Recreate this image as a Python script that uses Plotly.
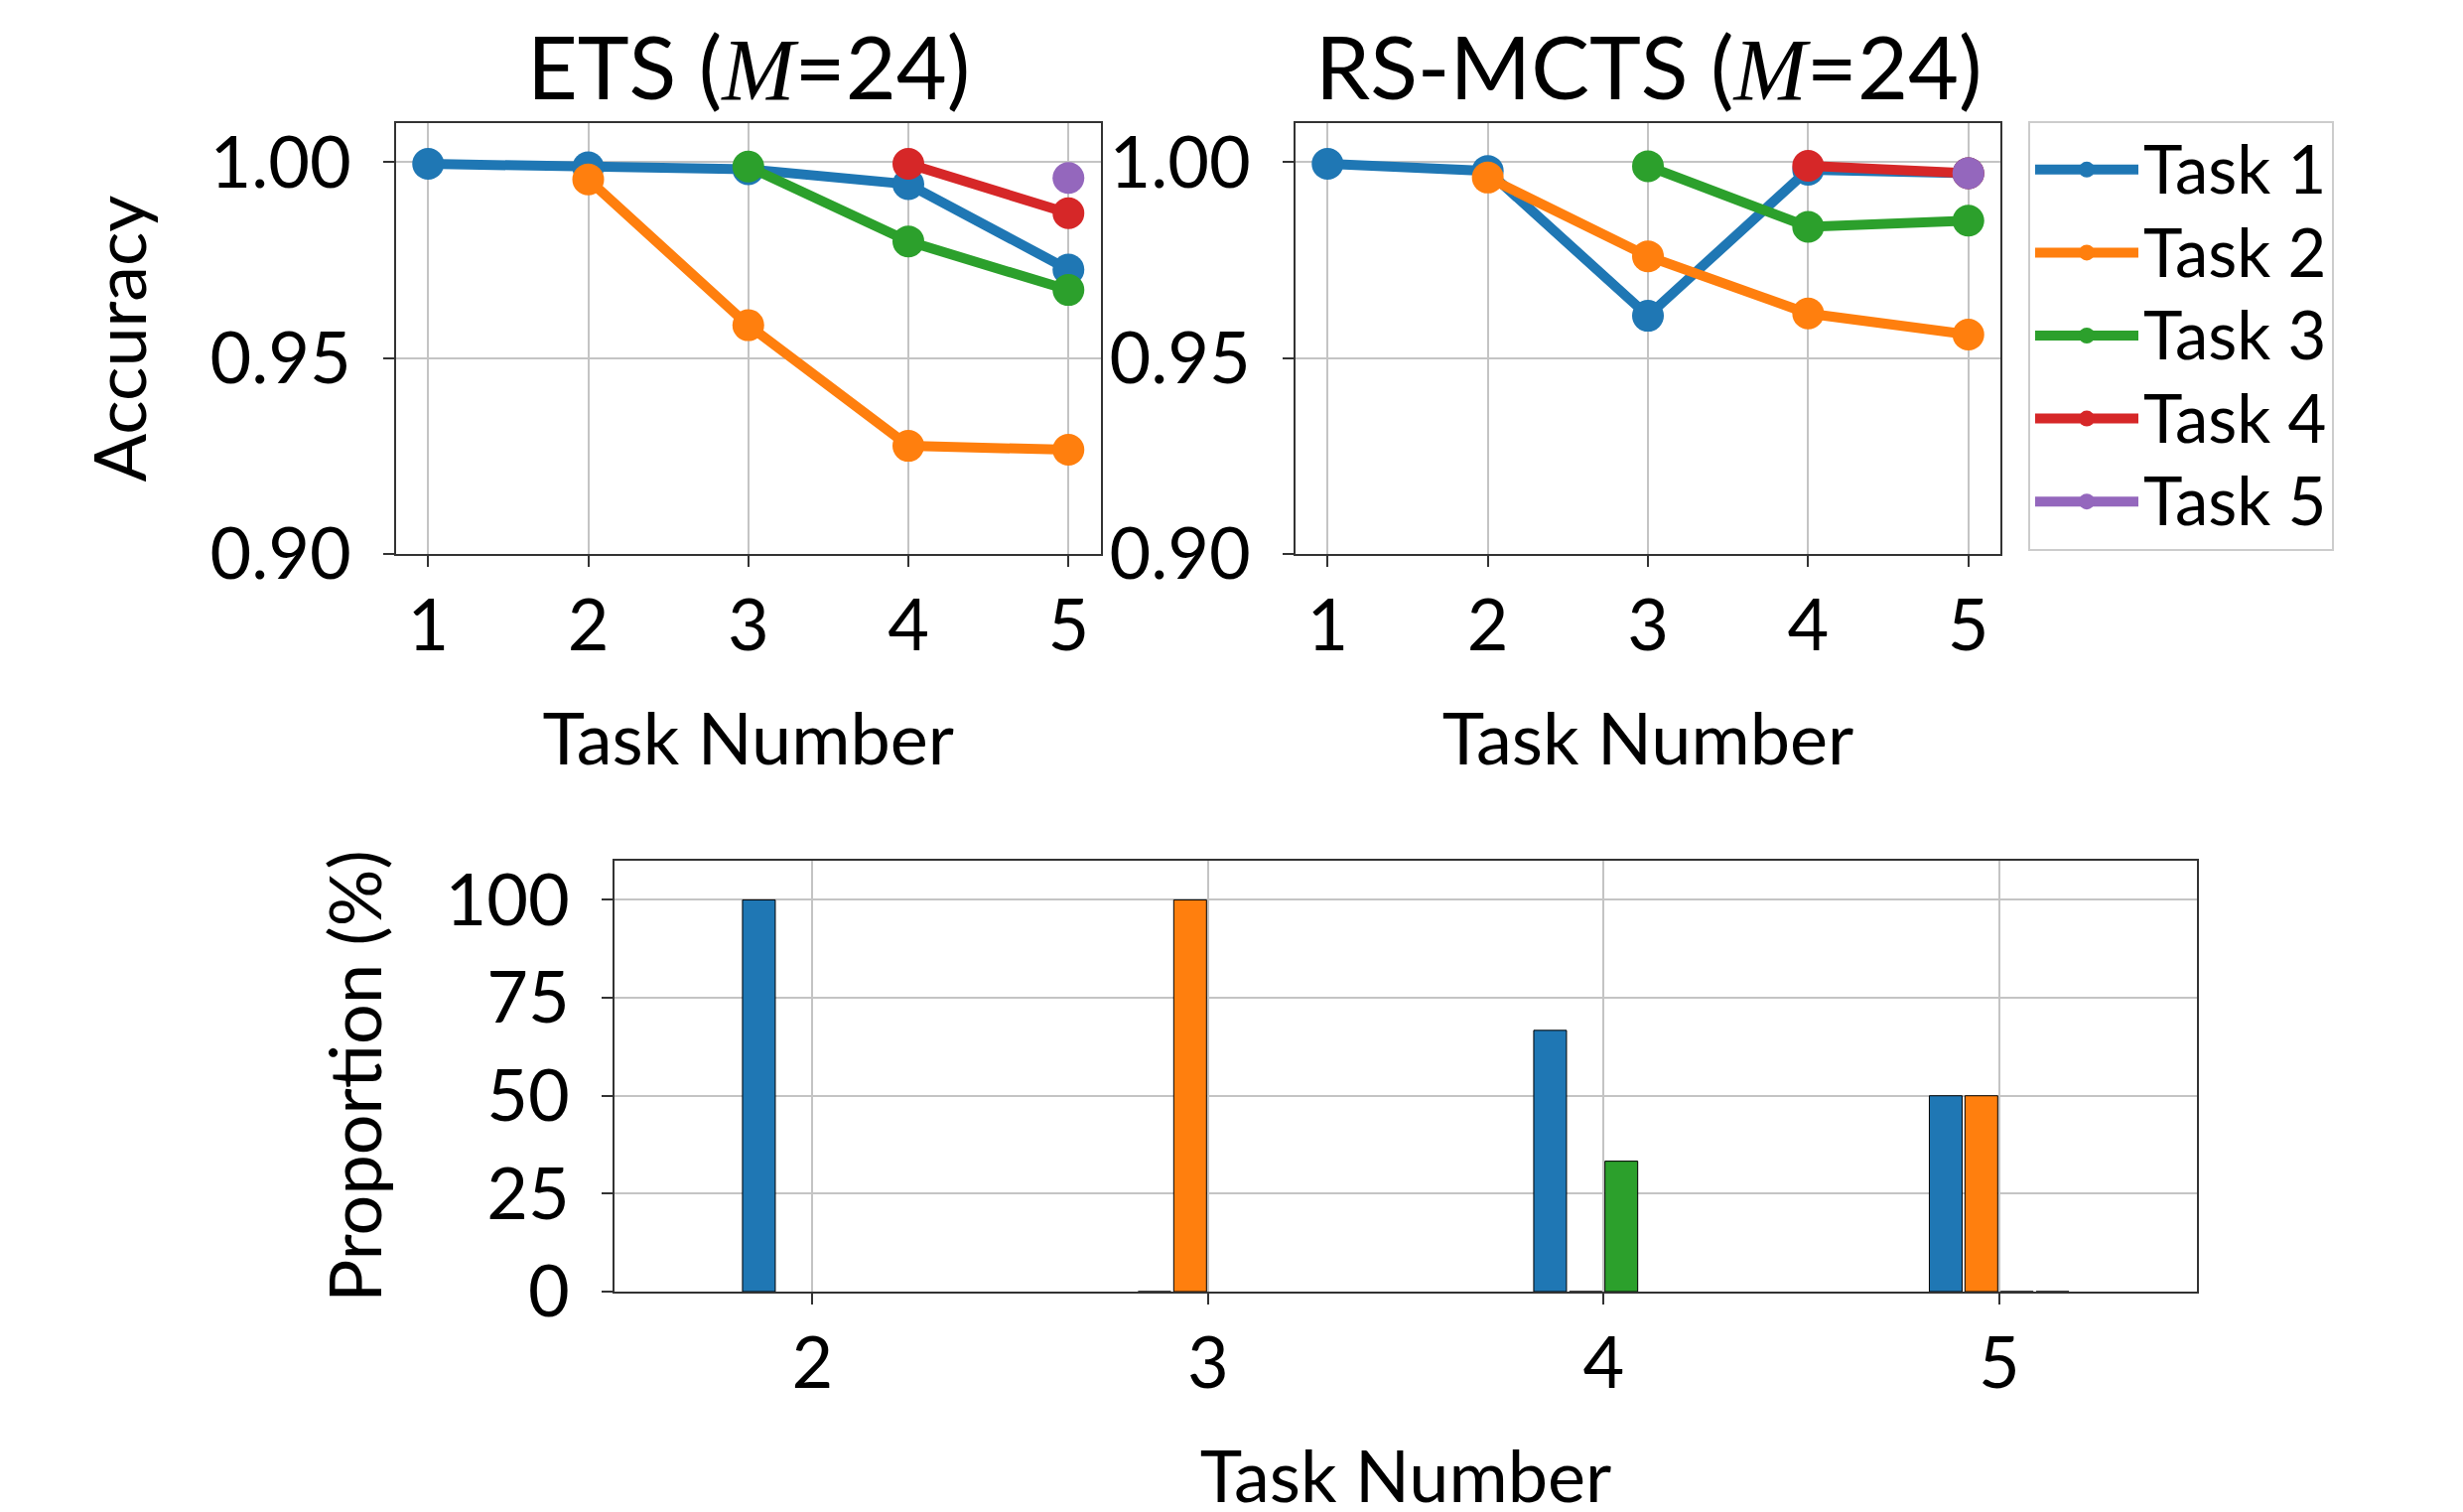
import plotly.graph_objects as go

# ---------------- data ----------------
tasks = [1, 2, 3, 4, 5]
task_names = ["Task 1", "Task 2", "Task 3", "Task 4", "Task 5"]
colors = ["#1f77b4", "#ff7f0e", "#2ca02c", "#d62728", "#9467bd"]

ets_task1 = [0.9996, 0.9987, 0.9982, 0.9944, 0.9726]
ets_task2 = [None, 0.9956, 0.9584, 0.9276, 0.9266]
ets_task3 = [None, None, 0.9989, 0.9798, 0.9674]
ets_task4 = [None, None, None, 0.9996, 0.9870]
ets_task5 = [None, None, None, None, 0.9960]

rs_task1 = [0.9996, 0.9978, 0.9608, 0.9981, 0.9972]
rs_task2 = [None, 0.9961, 0.9760, 0.9614, 0.9560]
rs_task3 = [None, None, 0.9990, 0.9835, 0.9851]
rs_task4 = [None, None, None, 0.9991, 0.9972]
rs_task5 = [None, None, None, None, 0.9972]

prop_tasks = [2, 3, 4, 5]
prop_task1 = [100, 0, 66.7, 50]
prop_task2 = [None, 100, 0, 50]
prop_task3 = [None, None, 33.3, 0]
prop_task4 = [None, None, None, 0]

acc_ticks = [0.90, 0.95, 1.00]
acc_ticklabels = ["0.90", "0.95", "1.00"]
prop_ticks = [0, 25, 50, 75, 100]

ets_series = [ets_task1, ets_task2, ets_task3, ets_task4, ets_task5]
rs_series = [rs_task1, rs_task2, rs_task3, rs_task4, rs_task5]
prop_series = [prop_task1, prop_task2, prop_task3, prop_task4]

# ---------------- figure ----------------
W, H = 2481, 1523
OFF = 8  # page body margin of the html page
FONT = "Lato"
FS = 72

fig = go.Figure()

for i, ys in enumerate(ets_series):
    fig.add_trace(go.Scatter(
        x=tasks, y=ys, mode="lines+markers",
        name="<span style='font-size:67px'>" + task_names[i] + "</span>",
        line=dict(color=colors[i], width=10),
        marker=dict(color=colors[i], size=32),
        legendgroup=task_names[i], showlegend=True,
        xaxis="x", yaxis="y"))

for i, ys in enumerate(rs_series):
    fig.add_trace(go.Scatter(
        x=tasks, y=ys, mode="lines+markers", name=task_names[i],
        line=dict(color=colors[i], width=10),
        marker=dict(color=colors[i], size=32),
        legendgroup=task_names[i], showlegend=False,
        xaxis="x2", yaxis="y2"))

for i, ys in enumerate(prop_series):
    fig.add_trace(go.Bar(
        x=prop_tasks, y=ys, name=task_names[i],
        marker=dict(color=colors[i], line=dict(color="black", width=1)),
        legendgroup=task_names[i], showlegend=False,
        xaxis="x3", yaxis="y3"))

def px_x(p):
    return (p - OFF) / W

def px_y(p):
    return 1 - (p - OFF) / H

top_dom_y = [px_y(558), px_y(124)]
left_dom_x = [px_x(399), px_x(1108.5)]
right_dom_x = [px_x(1305), px_x(2015)]
bot_dom_x = [px_x(619), px_x(2213)]
bot_dom_y = [px_y(1301), px_y(867)]

axis_common = dict(
    showline=True, mirror=True, linecolor="#333333", linewidth=1.5,
    ticks="outside", ticklen=11, tickwidth=1.5, tickcolor="#333333",
    showgrid=True, gridcolor="#c4c4c4", gridwidth=1.5,
    zeroline=False, automargin=False,
    tickfont=dict(family=FONT, size=FS, color="black"),
    title_font=dict(family=FONT, size=FS, color="black"),
)

XSTAND = -2
fig.update_layout(
    width=W, height=H,
    margin=dict(l=0, r=0, t=0, b=0, autoexpand=False),
    paper_bgcolor="white", plot_bgcolor="white",
    font=dict(family=FONT, size=FS, color="black"),
    barmode="group", bargap=0.64, bargroupgap=0.08,
    xaxis=dict(domain=left_dom_x, anchor="y", range=[0.8, 5.2],
               tickvals=tasks, ticklabelstandoff=XSTAND,
               title=dict(text="Task Number", standoff=50), **axis_common),
    yaxis=dict(domain=top_dom_y, anchor="x", range=[0.9, 1.01],
               tickvals=acc_ticks, ticktext=acc_ticklabels, ticklabelstandoff=18,
               title=dict(text="Accuracy", standoff=40), **axis_common),
    xaxis2=dict(domain=right_dom_x, anchor="y2", range=[0.8, 5.2],
                tickvals=tasks, ticklabelstandoff=XSTAND,
                title=dict(text="Task Number", standoff=50), **axis_common),
    yaxis2=dict(domain=top_dom_y, anchor="x2", range=[0.9, 1.01],
                tickvals=acc_ticks, ticktext=acc_ticklabels, ticklabelstandoff=18,
                **axis_common),
    xaxis3=dict(domain=bot_dom_x, anchor="y3", range=[1.5, 5.5],
                tickvals=prop_tasks, ticklabelstandoff=XSTAND,
                title=dict(text="Task Number", standoff=50), **axis_common),
    yaxis3=dict(domain=bot_dom_y, anchor="x3", range=[0, 110],
                tickvals=prop_ticks, ticklabelstandoff=18,
                title=dict(text="Proportion (%)", standoff=40), **axis_common),
    legend=dict(x=px_x(2043), y=px_y(122), xanchor="left", yanchor="top",
                bordercolor="#cccccc", borderwidth=2, bgcolor="white",
                font=dict(family=FONT, size=62, color="black"),
                itemwidth=104, tracegroupgap=0),
)

mi = "<span style='font-family:Liberation Serif'><i>M</i></span>"
TFS = 88
fig.add_annotation(text="ETS (" + mi + "=24)", xref="paper", yref="paper",
                   x=sum(left_dom_x) / 2, y=px_y(66), xanchor="center", yanchor="middle",
                   showarrow=False, font=dict(family=FONT, size=TFS, color="black"))
fig.add_annotation(text="RS-MCTS (" + mi + "=24)", xref="paper", yref="paper",
                   x=sum(right_dom_x) / 2, y=px_y(66), xanchor="center", yanchor="middle",
                   showarrow=False, font=dict(family=FONT, size=TFS, color="black"))

fig.write_html("out.html")
